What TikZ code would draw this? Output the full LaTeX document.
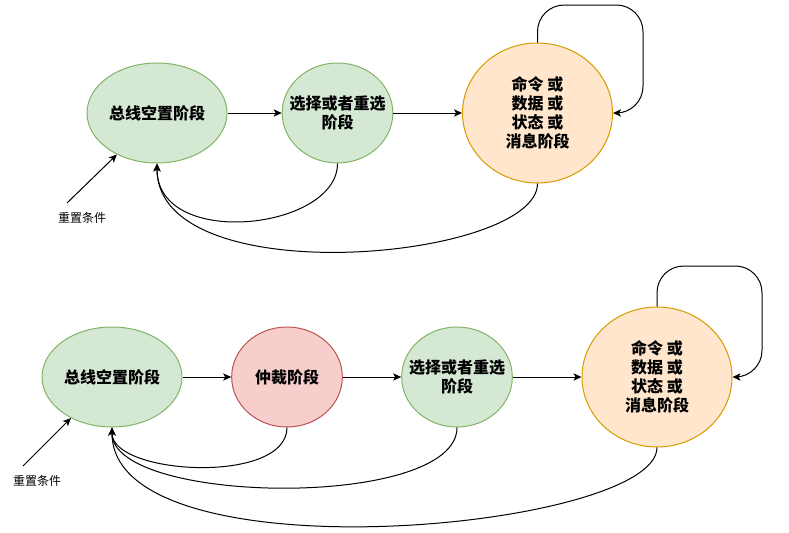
\documentclass[tikz,border=0pt]{standalone}
\usepackage{fontspec}
\newfontfamily\cjk{Noto Sans CJK SC}
\usetikzlibrary{shapes.geometric,arrows.meta}

\definecolor{vertfond}{HTML}{D5E8D4}
\definecolor{vertbord}{HTML}{82B366}
\definecolor{rougefond}{HTML}{F8CECC}
\definecolor{rougebord}{HTML}{B85450}
\definecolor{orangefond}{HTML}{FFE6CC}
\definecolor{orangebord}{HTML}{D79B00}

\tikzset{
    etat/.style={ellipse, draw, align=center, inner sep=0pt, line width=0.75pt,
        font=\cjk\bfseries\fontsize{12}{14.25}\selectfont},
    repos/.style={etat, fill=vertfond, draw=vertbord, minimum width=105pt, minimum height=75pt},
    choix/.style={etat, fill=vertfond, draw=vertbord, minimum width=83pt, minimum height=75pt, inner xsep=-7pt},
    arbitre/.style={etat, fill=rougefond, draw=rougebord, minimum width=83pt, minimum height=75pt},
    commande/.style={etat, fill=orangefond, draw=orangebord, minimum width=112.5pt, minimum height=105pt},
    fleche/.style={-{Stealth[length=6pt,width=5.5pt,inset=1.5pt]}, line width=0.75pt},
    note/.style={font=\cjk\fontsize{9}{11}\selectfont, inner sep=1pt}
}

\begin{document}
\begin{tikzpicture}[x=0.75pt, y=-0.75pt]
    \useasboundingbox (0,0) rectangle (789,532); % Cadre de l'image

    % Premier schéma
    \node[repos] (reposA) at (157,113) {总线空置阶段};
    \node[choix] (choixA) at (337.5,113) {选择或者重选\\阶段};
    \node[commande] (cmdA) at (537.5,113) {命令 或\\数据 或\\状态 或\\消息阶段};
    \coordinate (boucleA) at (643,5); % Coin de la boucle
    \coordinate (resetA) at (67,203); % Départ de la flèche de remise à zéro
    \node[note] (noteA) at (82,218) {重置条件};

    \draw[fleche] (reposA) -- (choixA);
    \draw[fleche] (choixA) -- (cmdA);
    \draw[fleche, rounded corners=20pt] (cmdA.north) |- (boucleA) |- (cmdA.east); % Boucle
    \draw[fleche] (choixA.south) .. controls (337.5,230) and (157,250) .. (reposA.south); % Retour
    \draw[fleche] (cmdA.south) .. controls (537.5,260) and (157,295) .. (reposA.south); % Retour
    \draw[fleche] (resetA) -- (reposA.226);

    % Second schéma
    \node[repos] (reposB) at (112,377) {总线空置阶段};
    \node[arbitre] (arbB) at (287,377) {仲裁阶段};
    \node[choix] (choixB) at (457,377) {选择或者重选\\阶段};
    \node[commande] (cmdB) at (657,377) {命令 或\\数据 或\\状态 或\\消息阶段};
    \coordinate (boucleB) at (762,266); % Coin de la boucle
    \coordinate (resetB) at (23,466); % Départ de la flèche de remise à zéro
    \node[note] (noteB) at (37,481) {重置条件};

    \draw[fleche] (reposB) -- (arbB);
    \draw[fleche] (arbB) -- (choixB);
    \draw[fleche] (choixB) -- (cmdB);
    \draw[fleche, rounded corners=20pt] (cmdB.north) |- (boucleB) |- (cmdB.east); % Boucle
    \draw[fleche] (arbB.south) .. controls (287,485) and (112,475) .. (reposB.south); % Retour
    \draw[fleche] (choixB.south) .. controls (457,510) and (112,505) .. (reposB.south); % Retour
    \draw[fleche] (cmdB.south) .. controls (657,530) and (112,580) .. (reposB.south); % Retour
    \draw[fleche] (resetB) -- (reposB.225);
\end{tikzpicture}
\end{document}
